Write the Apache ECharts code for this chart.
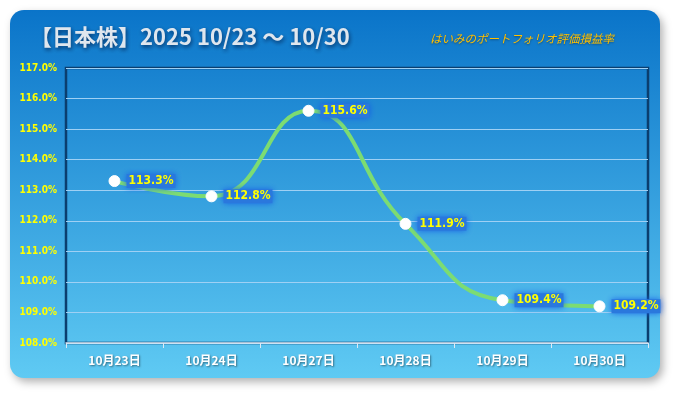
<!DOCTYPE html>
<html><head><meta charset="utf-8">
<script src="https://cdn.jsdelivr.net/npm/echarts@6/dist/echarts.min.js"></script>
<style>html,body{margin:0;padding:0;background:#fff}#c{width:675px;height:393px}</style>
</head><body><div id="c"></div>
<script>
const categories = ['10月23日','10月24日','10月27日','10月28日','10月29日','10月30日'];
const values = [113.3, 112.8, 115.6, 111.9, 109.4, 109.2];
const titleText = '【日本株】2025 10/23 ～ 10/30';
const subtitleText = 'はいみのポートフォリオ評価損益率';

const chart = echarts.init(document.getElementById('c'));
chart.setOption({
  animation: false,
  backgroundColor: '#ffffff',
  graphic: [
    { type: 'rect', z: -10, shape: { x: 10, y: 10, width: 650, height: 368, r: 14 },
      style: { fill: new echarts.graphic.LinearGradient(0,0,0,1,[{offset:0,color:'#0a74c9'},{offset:1,color:'#5fcaf3'}]),
        shadowBlur: 8, shadowOffsetX: 3, shadowOffsetY: 4, shadowColor: 'rgba(0,0,0,0.3)' } },
    { type: 'rect', z: -5, shape: { x: 66, y: 68, width: 582, height: 275 },
      style: { fill: 'none', stroke: '#0b3e6e', lineWidth: 2.5 } },
    { type: 'text', left: 30, top: 26, z: 10,
      style: { text: titleText, fill: '#dfe6ee', font: 'bold 22px "Noto Sans CJK JP", sans-serif',
        textShadowColor: 'rgba(0,20,60,0.7)', textShadowBlur: 4, textShadowOffsetX: 1, textShadowOffsetY: 2 } },
    { type: 'text', left: 430, top: 33, z: 10,
      style: { text: subtitleText, fill: '#ffc000', font: 'italic 11.5px "Noto Sans CJK JP", sans-serif',
        textShadowColor: 'rgba(0,0,0,0.4)', textShadowBlur: 2, textShadowOffsetY: 1 } }
  ],
  grid: { left: 66, right: 27, top: 68, bottom: 50, containLabel: false },
  xAxis: {
    type: 'category', data: categories, boundaryGap: true,
    axisLine: { show: true, lineStyle: { color: '#dbe9f5', width: 1.5 } },
    axisTick: { show: true, lineStyle: { color: '#dbe9f5' }, length: 5 },
    axisLabel: { color: '#ffffff', fontWeight: 'bold', fontSize: 12, margin: 11,
      fontFamily: '"Noto Sans CJK JP", sans-serif',
      textShadowColor: 'rgba(0,0,0,0.45)', textShadowBlur: 2, textShadowOffsetX: 1, textShadowOffsetY: 1 }
  },
  yAxis: {
    type: 'value', min: 108, max: 117, interval: 1,
    axisLine: { show: false }, axisTick: { show: false },
    splitLine: { lineStyle: { color: '#9fd0f4', width: 1 } },
    axisLabel: { color: '#ffff00', fontSize: 10, fontWeight: 'bold', margin: 9,
      fontFamily: '"Liberation Sans Narrow", "DejaVu Sans Condensed", sans-serif',
      formatter: v => v.toFixed(1) + '%' }
  },
  series: [{
    type: 'line', data: values, smooth: 0.5,
    lineStyle: { color: '#7cdc72', width: 4 },
    symbol: 'circle', symbolSize: 11,
    itemStyle: { color: '#ffffff', borderColor: '#ffffff' },
    label: { show: true, position: 'right', distance: 6, formatter: p => p.value.toFixed(1) + '%',
      color: '#ffff00', fontWeight: 'bold', fontSize: 12, fontFamily: '"DejaVu Sans Condensed", sans-serif',
      backgroundColor: '#2a78dd', padding: [1, 2],
      shadowColor: 'rgba(20,90,230,0.9)', shadowBlur: 6 }
  }]
});
</script></body></html>
